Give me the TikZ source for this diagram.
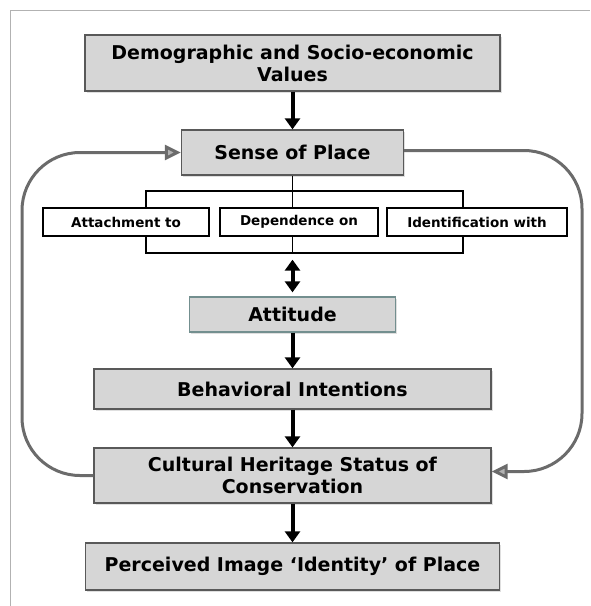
\documentclass[tikz,border=0pt]{standalone}
\usepackage{fontspec}
\setmainfont{DejaVu Sans}
\usetikzlibrary{positioning}
\usetikzlibrary{arrows.meta,shadows}

\begin{document}
\begin{tikzpicture}[x=1pt,y=1pt,on grid,
		mainbox/.style={draw=black!65,line width=1.3pt,fill=black!16,align=center,inner sep=0pt,
			font=\bfseries\fontsize{19}{22}\selectfont,
			drop shadow={shadow xshift=1.5pt,shadow yshift=-2pt,opacity=0.25}},
		subbox/.style={draw=black,line width=1.3pt,fill=white,inner sep=0pt,minimum height=28pt,
			font=\bfseries\fontsize{13.5}{16}\selectfont},
		flow/.style={line width=4pt,-{Triangle[length=11pt,width=15pt]}},
		twoway/.style={line width=4pt,{Triangle[length=11pt,width=15pt]}-{Triangle[length=11pt,width=15pt]}},
		backline/.style={draw=black!58,line width=3pt,rounded corners=58pt,
			-{Triangle[length=16pt,width=15pt,fill=black!30]}}]
		\useasboundingbox (0,0) rectangle (590,-606);
		\draw[black!30,line width=1pt] (10,-606) |- (590,-10);
		
		\node[mainbox,minimum width=415pt,minimum height=56pt] (demo) at (292.5,-63) {Demographic and Socio-economic\\Values};
		\node[mainbox,minimum width=222pt,minimum height=45pt] (sense) [below=89.5pt of demo] {Sense of Place};
		\node[draw,line width=1.3pt,minimum width=317pt,minimum height=62pt] (bracket) [below=69.5pt of sense,xshift=12pt] {};
		\draw[line width=1.3pt] (sense.south) -- (sense.south |- bracket.south);
		\node[subbox,minimum width=158pt] (depend) [below=69.5pt of sense,xshift=6.5pt] {Dependence on};
		\node[subbox,minimum width=166pt] (attach) [left=173pt of depend] {Attachment to};
		\node[subbox,minimum width=180pt] (ident) [right=178pt of depend] {Identification with};
		
		\node[mainbox,draw=teal!40!black!55,minimum width=206pt,minimum height=35pt] (att) [below=162pt of sense] {Attitude};
		\node[mainbox,minimum width=397pt,minimum height=40pt] (behav) [below=74.5pt of att] {Behavioral Intentions};
		\node[mainbox,minimum width=397pt,minimum height=55pt] (cult) [below=86.5pt of behav] {Cultural Heritage Status of\\Conservation};
		\node[mainbox,minimum width=414pt,minimum height=47pt] (perc) [below=91pt of cult] {Perceived Image `Identity' of Place};
		
		\coordinate (lft) at (22,-300);
		\coordinate (rgt) at (582,-300);
		
		\path[flow]
		(demo) edge (sense)
		(att) edge (behav)
		(behav) edge (cult)
		(cult) edge (perc);
		\path[twoway] (att.north |- bracket.south) edge [shorten <=6pt,shorten >=4pt] (att.north);
		
		\draw[backline] (cult.west) -| (lft) |- (sense.west);
		\draw[backline] ([yshift=2pt]sense.east) -| (rgt) |- ([yshift=4pt]cult.east);
	\end{tikzpicture}
\end{document}
